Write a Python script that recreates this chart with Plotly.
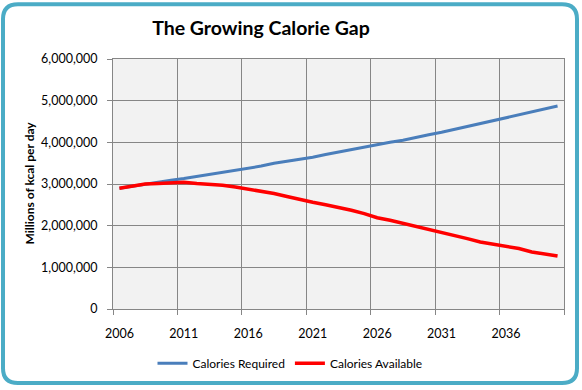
import plotly.graph_objects as go

years = list(range(2006, 2041))
calories_required = [2.90, 2.95, 3.00, 3.04, 3.09, 3.13, 3.18, 3.23, 3.28, 3.33,
                     3.37, 3.43, 3.50, 3.55, 3.59, 3.64, 3.71, 3.77, 3.83, 3.89,
                     3.95, 4.00, 4.05, 4.12, 4.18, 4.24, 4.31, 4.37, 4.44, 4.52,
                     4.59, 4.66, 4.73, 4.80, 4.87]
calories_available = [2.90, 2.955, 3.00, 3.015, 3.03, 3.04, 3.01, 3.00, 2.97, 2.93,
                      2.88, 2.81, 2.77, 2.70, 2.62, 2.56, 2.50, 2.44, 2.37, 2.29,
                      2.19, 2.13, 2.06, 1.99, 1.92, 1.83, 1.76, 1.69, 1.61, 1.56,
                      1.50, 1.45, 1.37, 1.32, 1.27]
label_years = [2006, 2011, 2016, 2021, 2026, 2031, 2036]
boundaries = [y - 0.5 for y in label_years] + [2040.5]

req = [v * 1e6 for v in calories_required]
avail = [v * 1e6 for v in calories_available]

W, H = 582, 390
L, R, T, B = 113, 564, 59, 312
FONT = "Lato"

def px(x):
    return (x - L) / (R - L)

def py(y):
    return (B - y) / (B - T)

fig = go.Figure()
fig.add_trace(go.Scatter(x=years, y=req, mode="lines", name="Calories Required",
                         line=dict(color="#4a7ebb", width=3)))
fig.add_trace(go.Scatter(x=years, y=avail, mode="lines", name="Calories Available",
                         line=dict(color="#ff0000", width=3.5)))
# invisible trace to activate label axis
fig.add_trace(go.Scatter(x=[2006], y=[None], xaxis="x2", showlegend=False, hoverinfo="skip"))

xr = [2005.5, 2040.5]
fig.update_layout(
    width=W, height=H,
    margin=dict(l=L, r=W - R, t=T, b=H - B, pad=0),
    paper_bgcolor="white", plot_bgcolor="#f2f2f2",
    font=dict(family=FONT, size=12, color="#000000"),
    showlegend=True,
    legend=dict(orientation="h", x=px(290), xanchor="center", y=py(367), yanchor="middle",
                font=dict(family=FONT, size=12, color="#000"), bgcolor="rgba(0,0,0,0)",
                itemwidth=30, tracegroupgap=0),
    xaxis=dict(range=xr, tickmode="array", tickvals=boundaries, showticklabels=False,
               ticks="outside", ticklen=5, tickcolor="#868686", tickwidth=1,
               showgrid=True, gridcolor="#868686", gridwidth=1,
               showline=True, linecolor="#868686", linewidth=1, mirror=True,
               zeroline=False, fixedrange=True),
    xaxis2=dict(range=xr, overlaying="x", side="bottom", anchor="y", tickmode="array",
                tickvals=label_years, ticktext=[str(y) for y in label_years],
                ticks="outside", ticklen=13, tickcolor="rgba(0,0,0,0)",
                showgrid=False, showline=False, zeroline=False,
                tickfont=dict(family=FONT, size=12.5, color="#000")),
    yaxis=dict(range=[0, 6e6], tickmode="linear", tick0=0, dtick=1e6, tickformat=",",
               ticks="outside", ticklen=5, tickcolor="#868686", ticklabelstandoff=7,
               showgrid=True, gridcolor="#868686", gridwidth=1,
               showline=True, linecolor="#868686", linewidth=1, mirror=True,
               zeroline=False, tickfont=dict(family=FONT, size=12.5, color="#000")),
    title=dict(text="<b>The Growing Calorie Gap</b>", x=px(261), xref="paper", xanchor="center",
               y=1 - 28 / H, yref="container", yanchor="middle",
               font=dict(family=FONT, size=19.5, color="#000")),
)

fig.add_annotation(text="<b>Millions of kcal per day</b>", xref="paper", yref="paper",
                   x=px(30), y=py(185), textangle=-90, showarrow=False,
                   xanchor="center", yanchor="middle",
                   font=dict(family=FONT, size=12, color="#000"))

# rounded chart border
x0, y0, x1, y1, r = 3, 3.5, 577, 387, 15
def P(x, y):
    return f"{px(x):.5f},{py(y):.5f}"
path = (f"M {P(x0 + r, y0)} L {P(x1 - r, y0)} Q {P(x1, y0)} {P(x1, y0 + r)} "
        f"L {P(x1, y1 - r)} Q {P(x1, y1)} {P(x1 - r, y1)} "
        f"L {P(x0 + r, y1)} Q {P(x0, y1)} {P(x0, y1 - r)} "
        f"L {P(x0, y0 + r)} Q {P(x0, y0)} {P(x0 + r, y0)} Z")
fig.add_shape(type="path", path=path, xref="paper", yref="paper",
              line=dict(color="#4bacc6", width=4), layer="above")

fig.write_html("out.html", config={"displayModeBar": False},
               post_script="document.body.style.margin='0';document.body.style.overflow='hidden';")
